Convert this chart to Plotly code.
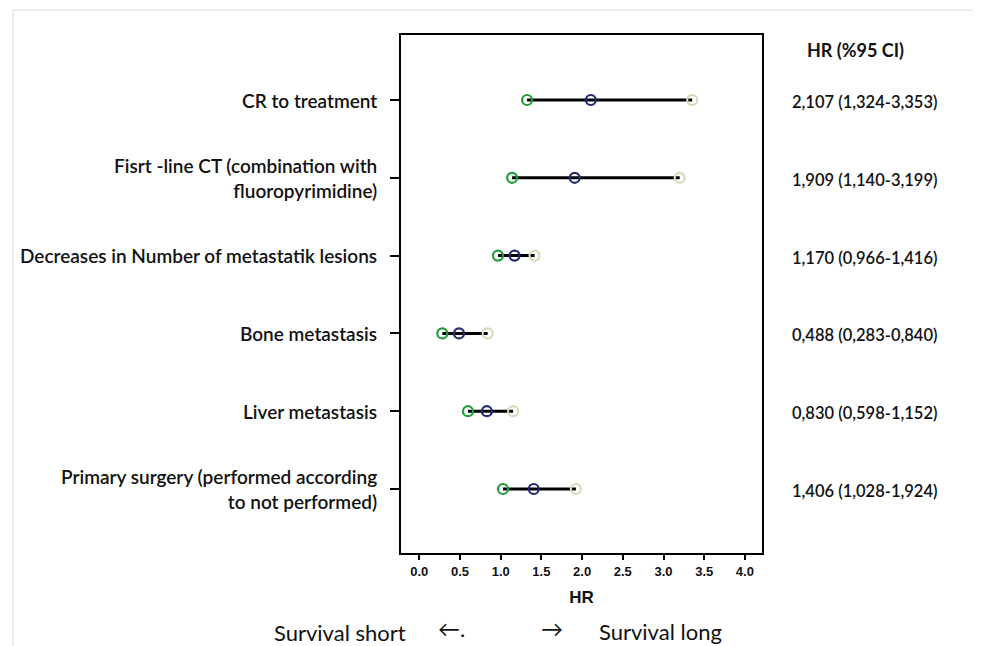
import plotly.graph_objects as go

categories = [
    "CR to treatment",
    "Fisrt -line CT (combination with<br>fluoropyrimidine)",
    "Decreases in Number of metastatik lesions",
    "Bone metastasis",
    "Liver metastasis",
    "Primary surgery (performed according<br>to not performed)",
]
hr = [2.107, 1.909, 1.170, 0.488, 0.830, 1.406]
ci_low = [1.324, 1.140, 0.966, 0.283, 0.598, 1.028]
ci_high = [3.353, 3.199, 1.416, 0.840, 1.152, 1.924]
x_ticks = [0.0, 0.5, 1.0, 1.5, 2.0, 2.5, 3.0, 3.5, 4.0]

rows = list(range(1, len(categories) + 1))

# page body has an 8px margin; work in screenshot pixels and shift
OFF = 8
W, H = 981 - 2 * OFF, 646 - OFF
L, R, T, B = 401, 762, 35, 553  # plot box in screenshot pixels


def px_x(p):
    return (p - L) / (R - L)


def px_y(p):
    return (B - p) / (B - T)


def fmt(v):
    return f"{v:.3f}".replace(".", ",")


fig = go.Figure()

lx, ly = [], []
for r, a, b in zip(rows, ci_low, ci_high):
    lx += [a, b, None]
    ly += [r, r, None]
fig.add_trace(go.Scatter(x=lx, y=ly, mode="lines", line=dict(color="black", width=3),
                         hoverinfo="skip", showlegend=False))
fig.add_trace(go.Scatter(x=ci_low, y=rows, mode="markers",
                         marker=dict(symbol="circle-open", size=10, color="#1f9e3a", line=dict(width=2.2)),
                         showlegend=False))
fig.add_trace(go.Scatter(x=ci_high, y=rows, mode="markers",
                         marker=dict(symbol="circle-open", size=10, color="#d9d8b8", line=dict(width=2.2)),
                         showlegend=False))
fig.add_trace(go.Scatter(x=hr, y=rows, mode="markers",
                         marker=dict(symbol="circle-open", size=10, color="#232a6e", line=dict(width=2.2)),
                         showlegend=False))

fig.add_vline(x=1.0, line=dict(color="black", width=2))

annotations = []
for r, c in zip(rows, categories):
    annotations.append(dict(x=0, y=r, xref="paper", yref="y", text=c,
                            xanchor="right", yanchor="middle", align="right", showarrow=False,
                            xshift=-22, font=dict(family="Lato", size=19, color="#111111", weight=600)))
for r, h, a, b in zip(rows, hr, ci_low, ci_high):
    annotations.append(dict(x=px_x(790), y=r, xref="paper", yref="y", yshift=-2,
                            text=f"{fmt(h)} ({fmt(a)}-{fmt(b)})",
                            xanchor="left", yanchor="middle", showarrow=False,
                            font=dict(family="Lato", size=16.5, color="#111111", weight=600)))
annotations.append(dict(x=px_x(855), y=px_y(50), xref="paper", yref="paper",
                        text="<b>HR (%95 CI)</b>", showarrow=False, xanchor="center", yanchor="middle",
                        font=dict(family="Lato", size=18, color="#111111")))
bottom_texts = [("Survival short", 340, 632), ("←.", 451, 628), ("→", 552, 628), ("Survival long", 660, 631)]
for txt, cx, cy in bottom_texts:
    annotations.append(dict(x=px_x(cx), y=px_y(cy), xref="paper", yref="paper",
                            text=txt, showarrow=False, xanchor="center", yanchor="middle",
                            font=dict(family="Lato", size=22, color="#111111")))

shapes = [dict(type="rect", xref="paper", yref="paper",
               x0=px_x(13), x1=px_x(980), y0=px_y(680), y1=px_y(10),
               line=dict(color="#dddddd", width=1), fillcolor="rgba(0,0,0,0)", layer="below")]

x0_px, ppu = 419.3, 81.4
xr = [(L - x0_px) / ppu, (R - x0_px) / ppu]
rpu = 77.8
yr = [6 + (B - 489) / rpu, 1 - (100 - T) / rpu]

fig.update_layout(
    width=W, height=H,
    margin=dict(l=L - OFF, r=W - (R - OFF), t=T - OFF, b=H - (B - OFF), pad=0),
    paper_bgcolor="white", plot_bgcolor="white",
    showlegend=False,
    annotations=annotations,
    shapes=shapes,
    xaxis=dict(range=xr, tickvals=x_ticks, ticktext=[f"{v:.1f}" for v in x_ticks],
               showgrid=False, zeroline=False, showline=True, mirror=True,
               linecolor="black", linewidth=2, ticks="outside", ticklen=5, tickwidth=2,
               tickcolor="black",
               tickfont=dict(family="Arial", size=13, color="#111111", weight="bold"),
               title=dict(text="<b>HR</b>", font=dict(family="Arial", size=17, color="#111111"),
                          standoff=14)),
    yaxis=dict(range=yr, tickvals=rows, ticktext=["" for _ in rows],
               showgrid=False, zeroline=False, showline=True, mirror=True,
               linecolor="black", linewidth=2, ticks="outside", ticklen=9, tickwidth=2,
               tickcolor="black"),
)

fig.write_html("out.html")
